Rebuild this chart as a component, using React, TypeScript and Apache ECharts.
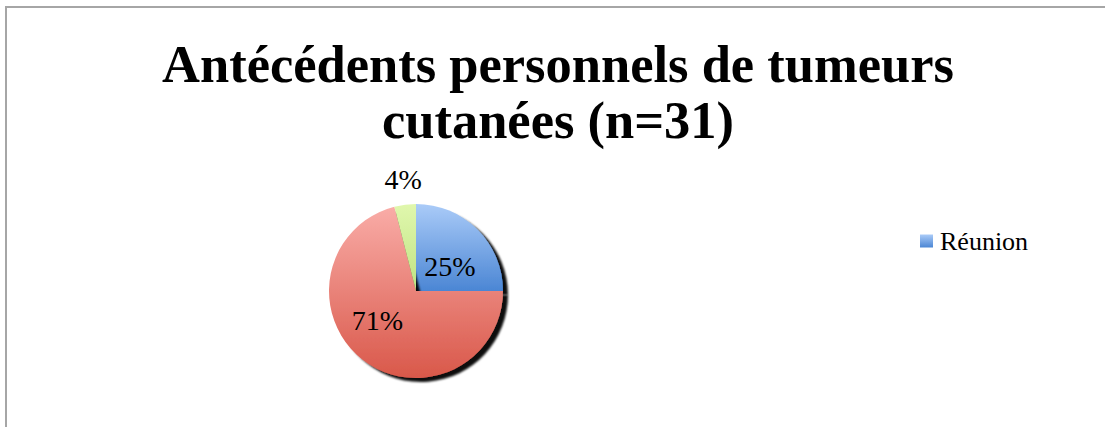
import React, { useEffect, useRef } from "react";
import * as echarts from "echarts";

const titleText = "Antécédents personnels de tumeurs\ncutanées (n=31)";
const sliceNames = ["Réunion", "Métropole", "Autre"];
const sliceValues = [25, 71, 4];
const legendNames = ["Réunion"];
const sliceTopColors = ["#aacbf8", "#f9aca7", "#e0f7ad"];
const sliceBottomColors = ["#4b86d4", "#d9584a", "#bfe383"];
const labelOffsets = [[1, 8], [-10, -7], [-7, -65]];
const sliceShadow = [true, true, false];

export default function App() {
  const ref = useRef<HTMLDivElement>(null);
  useEffect(() => {
    if (!ref.current) return;
    const chart = echarts.init(ref.current, null, { renderer: "svg" });
    const data = sliceNames.map((name, i) => ({
      name,
      value: sliceValues[i],
      itemStyle: {
        color: new echarts.graphic.LinearGradient(0, 0, 0, 1, [
          { offset: 0, color: sliceTopColors[i] },
          { offset: 1, color: sliceBottomColors[i] },
        ]),
        ...(sliceShadow[i]
          ? { shadowColor: "rgba(0,0,0,0.95)", shadowBlur: 2, shadowOffsetX: 5, shadowOffsetY: 4 }
          : {}),
      },
      label: { offset: labelOffsets[i] },
    }));
    chart.setOption({
      animation: false,
      backgroundColor: "#ffffff",
      title: {
        text: titleText,
        left: 558,
        top: 36,
        textAlign: "center",
        padding: 0,
        textStyle: {
          fontFamily: "Liberation Serif",
          fontWeight: "bold",
          fontSize: 52.5,
          lineHeight: 56,
          color: "#000000",
        },
      },
      legend: {
        data: legendNames,
        left: 920,
        top: 228,
        padding: 0,
        icon: "rect",
        itemWidth: 13,
        itemHeight: 13,
        itemGap: 6,
        textStyle: { fontFamily: "Liberation Serif", fontSize: 26, color: "#000000", padding: [0, 0, 0, 2] },
      },
      graphic: [
        {
          type: "line",
          shape: { x1: 6, y1: 7, x2: 1120, y2: 7 },
          style: { stroke: "#a6a6a6", lineWidth: 2 },
          silent: true,
        },
        {
          type: "line",
          shape: { x1: 6, y1: 6, x2: 6, y2: 440 },
          style: { stroke: "#a6a6a6", lineWidth: 2 },
          silent: true,
        },
      ],
      series: [
        {
          type: "pie",
          center: [416, 291],
          radius: [0, 87],
          startAngle: 90,
          clockwise: true,
          avoidLabelOverlap: false,
          label: {
            show: true,
            position: "inside",
            formatter: "{d}%",
            fontFamily: "Liberation Serif",
            fontSize: 28,
            color: "#000000",
          },
          labelLine: { show: false },
          emphasis: { disabled: true },
          data,
        },
      ],
    });
    return () => chart.dispose();
  }, []);
  return (
    <div style={{ position: "fixed", left: 0, top: 0, width: "100vw", height: "100vh", overflow: "hidden", background: "#ffffff" }}>
      <div ref={ref} style={{ width: 1105, height: 427 }} />
    </div>
  );
}
